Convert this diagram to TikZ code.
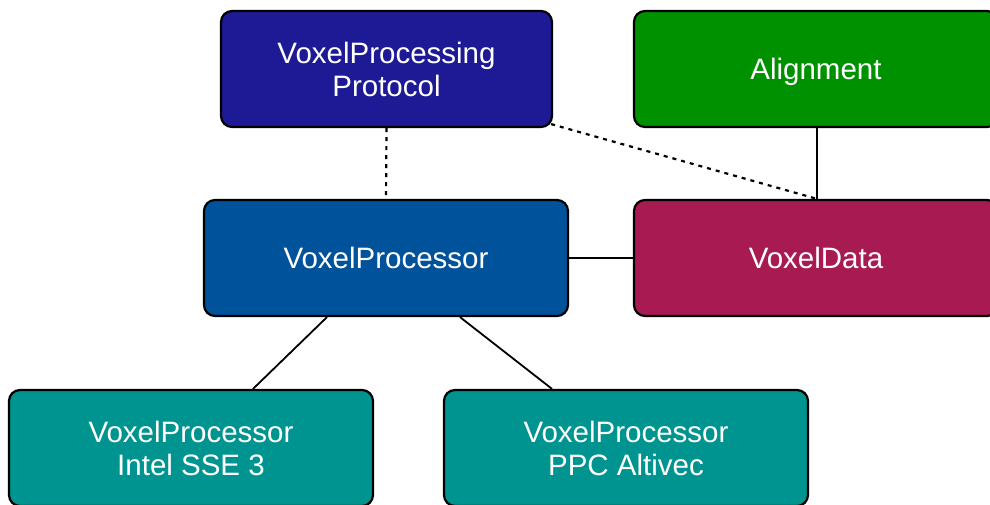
\documentclass[tikz,border=0pt]{standalone}
\usepackage{fontspec}
\setmainfont{Liberation Sans}
\usetikzlibrary{backgrounds}
\definecolor{protoblue}{RGB}{30,26,150}
\definecolor{procblue}{RGB}{0,82,155}
\definecolor{aligngreen}{RGB}{0,145,0}
\definecolor{datared}{RGB}{168,27,82}
\definecolor{teal}{RGB}{0,148,145}
\tikzset{
  box/.style={draw=black, line width=2.2pt, rounded corners=11pt, text=white,
    minimum height=116pt, minimum width=364pt, align=center, inner sep=0pt,
    font=\fontsize{29.5pt}{33pt}\selectfont},
  conn/.style={line width=1.8pt, draw=black},
  dotconn/.style={line width=2.2pt, draw=black, dash pattern=on 4pt off 5pt}
}
\begin{document}
\begin{tikzpicture}[x=1pt,y=1pt]
\useasboundingbox (0,0) rectangle (990,504);
\clip (0,0) rectangle (990,504);
\node[box, fill=protoblue, minimum width=331pt] (proto) at (386.5,435) {VoxelProcessing\\Protocol};
\node[box, fill=aligngreen, text depth=0pt] (align) at (816,435) {Alignment};
\node[box, fill=procblue] (proc) at (386,246) {VoxelProcessor};
\node[box, fill=datared] (data) at (816,246) {VoxelData};
\node[box, fill=teal] (intel) at (191,56) {VoxelProcessor\\Intel SSE 3};
\node[box, fill=teal] (ppc) at (626,56) {VoxelProcessor\\PPC Altivec};
\begin{scope}[on background layer]
\draw[dotconn] (proto.south) -- (proc.north);
\draw[dotconn] ([xshift=-2pt,yshift=4pt]proto.south east) -- ([xshift=1pt]data.north);
\draw[conn] ([xshift=1pt]align.south) -- ([xshift=1pt]data.north);
\draw[conn] (proc.east) -- (data.west);
\draw[conn] ([xshift=-59pt]proc.south) -- ([xshift=62pt]intel.north);
\draw[conn] ([xshift=74pt]proc.south) -- ([xshift=-74pt]ppc.north);
\end{scope}
\end{tikzpicture}
\end{document}
